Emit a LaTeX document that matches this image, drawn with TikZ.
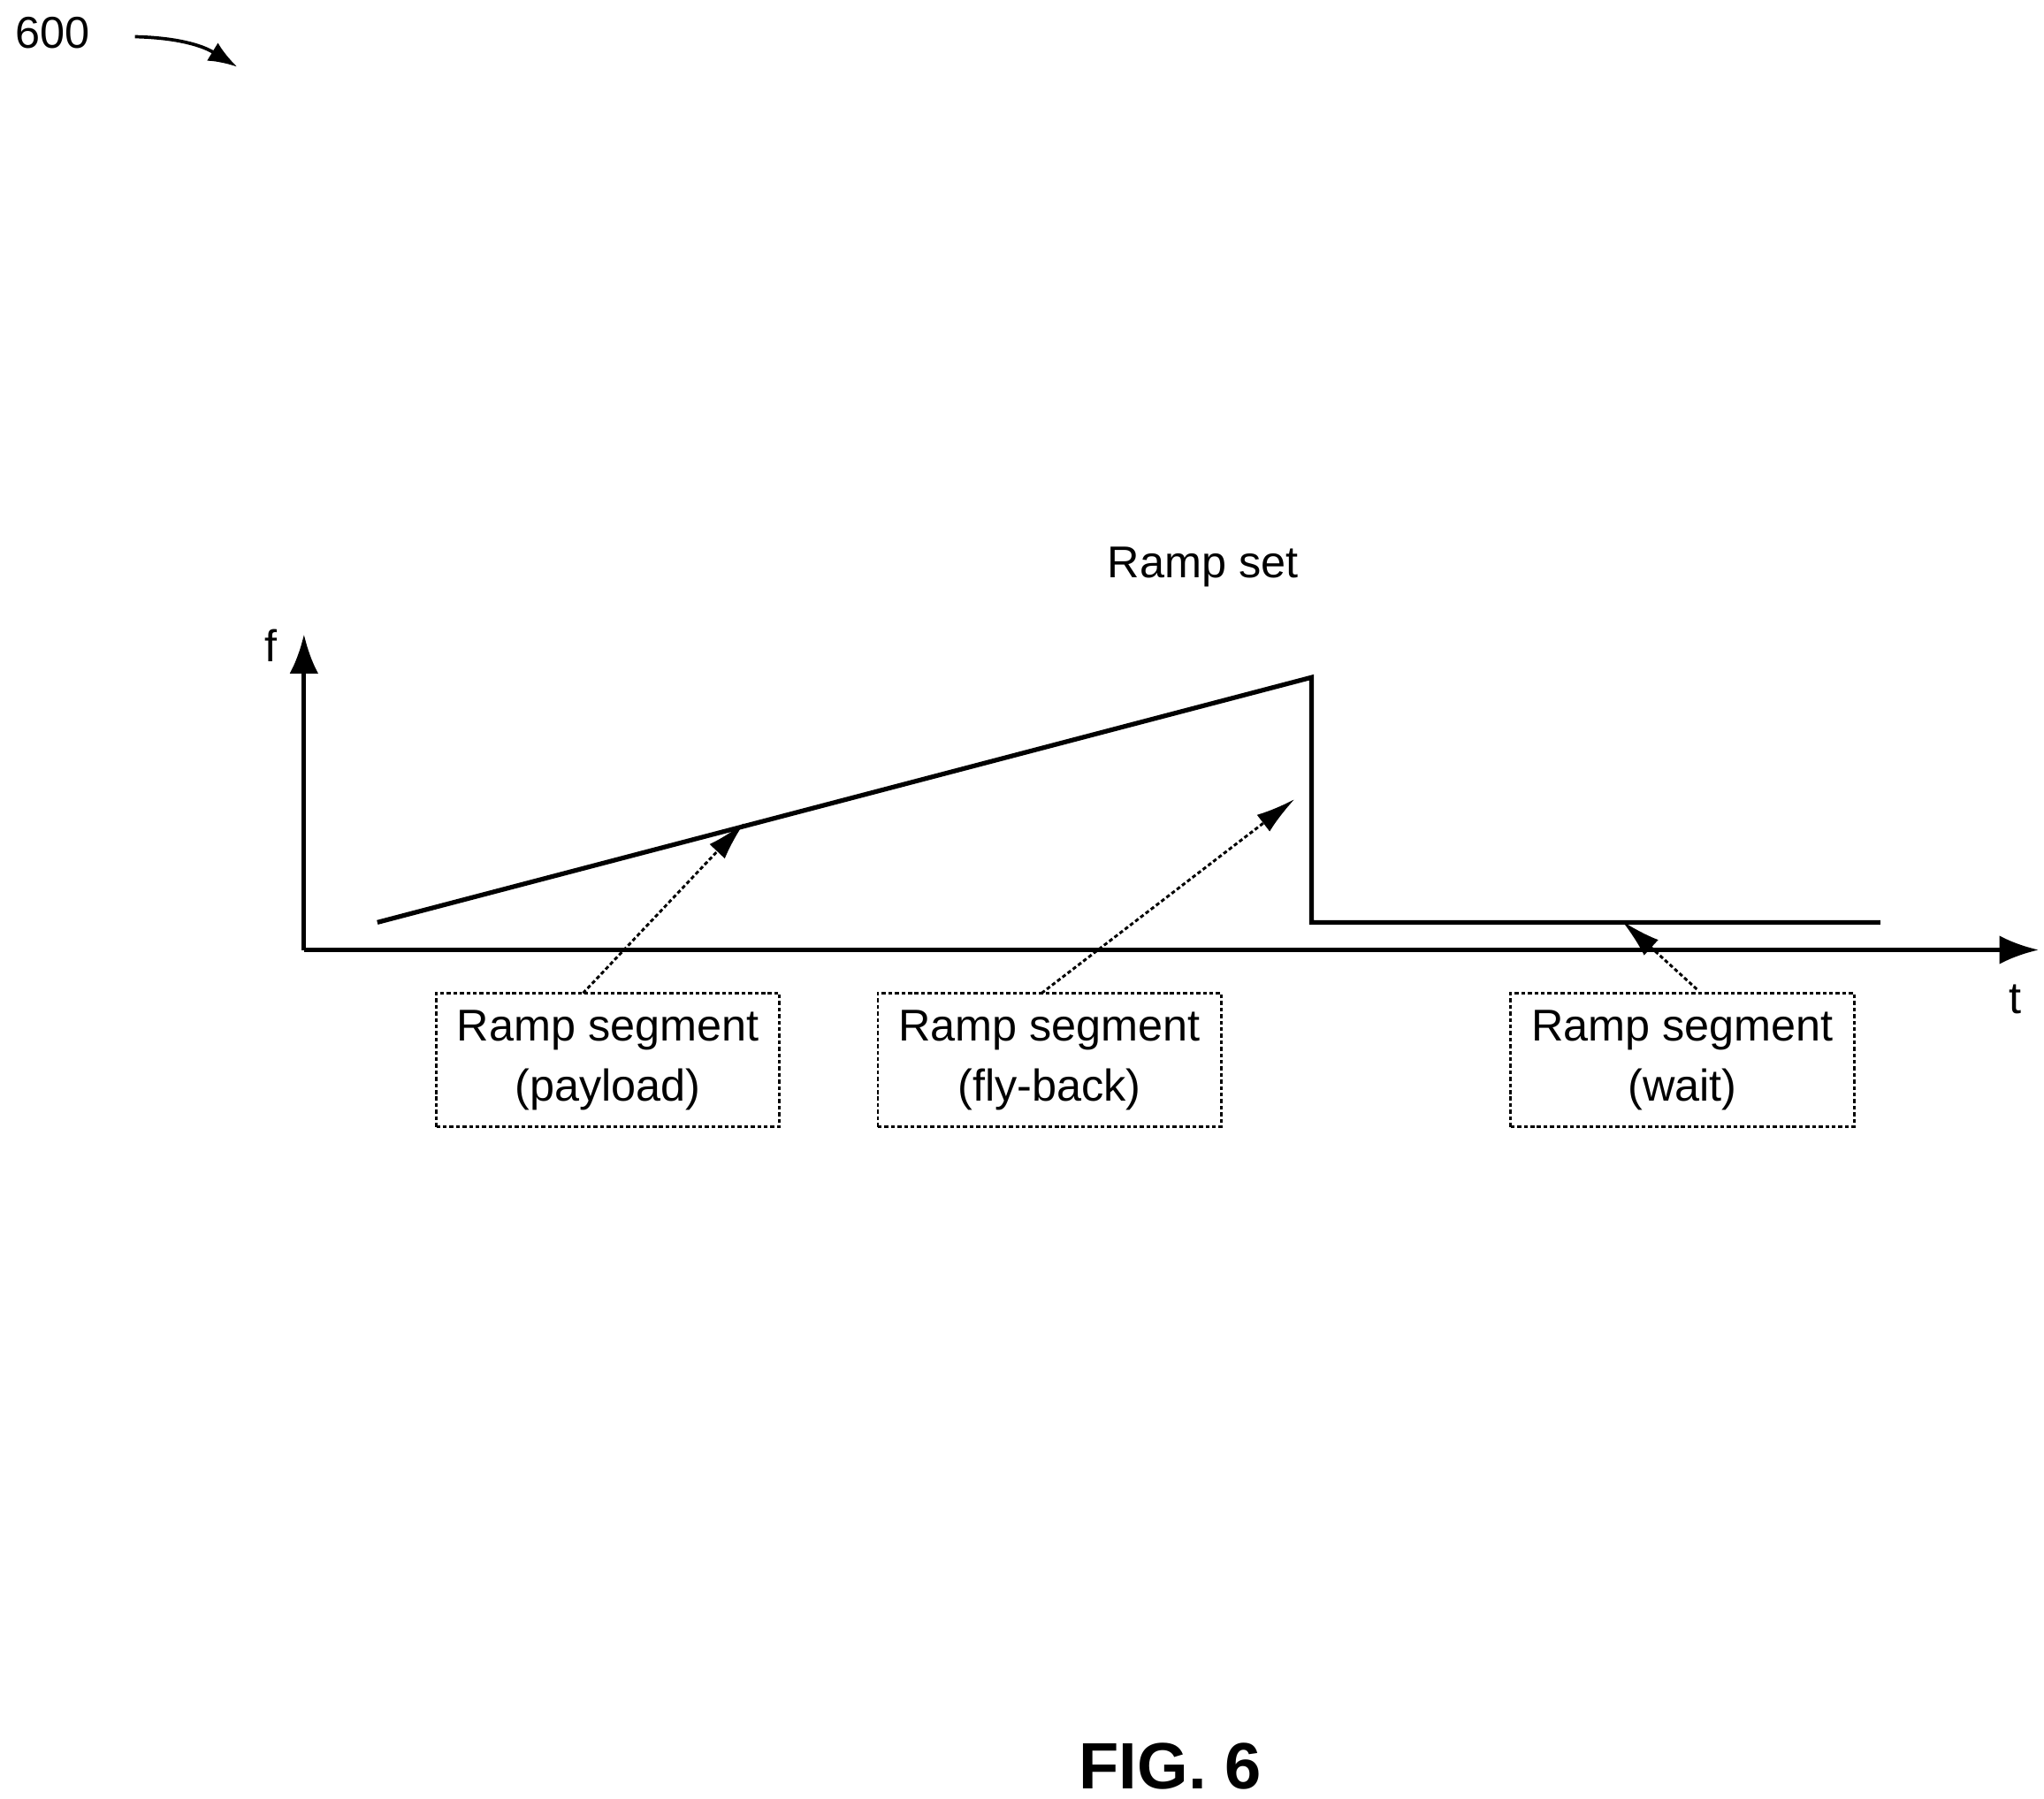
\documentclass[tikz,border=0pt]{standalone}
\usepackage{fontspec}
\setmainfont{Liberation Sans}
\usetikzlibrary{arrows.meta}
\begin{document}
\begin{tikzpicture}[x=1pt,y=-1pt,
  lbl/.style={font=\fontsize{34}{40}\selectfont},
  box/.style={draw,densely dashed,line width=2pt,minimum width=262pt,minimum height=102pt,align=center,inner sep=0pt,font=\fontsize{34}{46}\selectfont},
  ptr/.style={densely dashed,line width=2pt,-{Latex[length=30pt,width=16pt]}},
  axis/.style={line width=3.5pt,-{Latex[length=30pt,width=22pt]}},
  sig/.style={line width=3.5pt,line join=miter}]
\useasboundingbox (0,0) rectangle (1560,1373);
\node[lbl] (n600) at (40,25) {600};
\coordinate (a1) at (103,28);
\coordinate (a2) at (181,51);
\draw[line width=2.5pt,-{Latex[length=22pt,width=16pt]}] (a1) to[bend left=15] (a2);
\coordinate (O) at (232,725);
\coordinate (Ytip) at (232,484);
\coordinate (Xtip) at (1556,725);
\draw[axis] (O) -- (Ytip);
\draw[axis] (O) -- (Xtip);
\node[lbl] (f) at (207,493) {f};
\node[lbl] (t) at (1538,763) {t};
\node[lbl] (rs) at (918,433) {Ramp set};
\coordinate (s0) at (288,704);
\coordinate (s1) at (1001,517);
\coordinate (s2) at (1001,704);
\coordinate (s3) at (1435,704);
\draw[sig] (s0) -- (s1) -- (s2) -- (s3);
\node[box] (b1) at (464,809) {Ramp segment\\(payload)};
\node[box] (b2) at (801,809) {Ramp segment\\(fly-back)};
\node[box] (b3) at (1284,809) {Ramp segment\\(wait)};
\coordinate (p1) at (568,628);
\coordinate (p2) at (988,610);
\coordinate (p3) at (1238,703);
\draw[ptr] (445,758) -- (p1);
\draw[ptr] (795,758) -- (p2);
\draw[ptr] (1295,755) -- (p3);
\node[font=\bfseries\fontsize{50}{56}\selectfont] (fig) at (893,1348) {FIG. 6};
\end{tikzpicture}
\end{document}
